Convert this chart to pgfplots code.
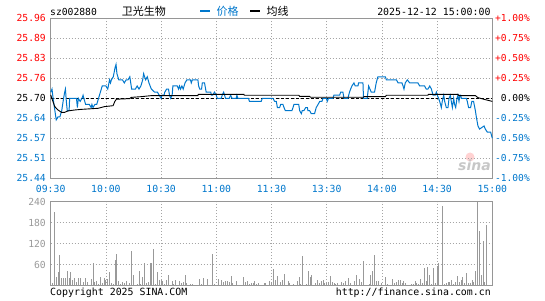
\documentclass[border=0pt]{standalone}
\usepackage{pgfplots}
\pgfplotsset{compat=1.18}
\usepackage{fontspec}
\setmainfont{DejaVu Sans Mono}
\newfontfamily\cjk{Noto Sans CJK SC}
\newfontfamily\dvs{DejaVu Sans}
\definecolor{pblue}{RGB}{0,119,204}
\definecolor{vgray}{RGB}{153,153,153}
\definecolor{ggray}{RGB}{165,165,165}
\definecolor{fgray}{RGB}{150,150,150}
\definecolor{tred}{RGB}{255,0,0}
\tikzset{pct/.style={anchor=east,inner sep=0pt,xshift=37.7pt,font=\fontsize{9.6}{10}\selectfont}}
\begin{document}
\begin{tikzpicture}[x=1pt,y=1pt]
\useasboundingbox (0,0) rectangle (545,300);
% header
\node[anchor=base west,inner sep=0,font=\fontsize{9.7}{10}\selectfont] at (50,284) {sz002880};
\node[anchor=base west,inner sep=0,font=\cjk\fontsize{11}{12}\selectfont] at (121.7,284.8) {卫光生物};
\draw[pblue,line width=2pt] (200,288.5) -- (210,288.5);
\node[anchor=base west,inner sep=0,text=pblue,font=\cjk\fontsize{11}{12}\selectfont] at (216.5,284.8) {价格};
\draw[black,line width=2pt] (250,288.5) -- (260,288.5);
\node[anchor=base west,inner sep=0,font=\cjk\fontsize{11}{12}\selectfont] at (266.5,284.8) {均线};
\node[anchor=base east,inner sep=0,font=\fontsize{9.9}{10}\selectfont] at (490.7,284) {2025-12-12 15:00:00};
% watermark
\fill[red!60!pink,opacity=0.25] (470,143) circle (4.5);
\node[anchor=base west,inner sep=0,text=black!22,font=\dvs\bfseries\itshape\fontsize{14}{14}\selectfont] at (458,130) {sina};
% price axis
\begin{axis}[
  at={(50.7pt,121.7pt)}, anchor=south west, scale only axis,
  width=441.6pt, height=160pt,
  xmin=0, xmax=240, ymin=25.44, ymax=25.96,
  clip=false,
  axis line style={fgray,line width=0.9pt},
  major tick length=0pt,
  grid=major,
  major grid style={ggray,line width=0.8pt,dash pattern=on 1pt off 2pt},
  xtick={0,30,60,90,120,150,180,210,240},
  xticklabels={09:30,10:00,10:30,11:00,11:30,13:30,14:00,14:30,15:00},
  xticklabel style={text=pblue,font=\fontsize{9.8}{10}\selectfont,inner sep=0pt,anchor=north,yshift=-6.6pt},
  ytick={25.44,25.505,25.57,25.635,25.70,25.765,25.83,25.895,25.96},
  yticklabels={\textcolor{pblue}{25.44},\textcolor{pblue}{25.51},\textcolor{pblue}{25.57},\textcolor{pblue}{25.64},25.70,\textcolor{tred}{25.76},\textcolor{tred}{25.83},\textcolor{tred}{25.89},\textcolor{tred}{25.96}},
  yticklabel style={font=\fontsize{9.7}{10}\selectfont,inner sep=0pt,anchor=east,xshift=-4.7pt},
]
\addplot[black,line width=0.9pt,dash pattern=on 3pt off 2pt] coordinates {(0,25.70) (240,25.70)};
\addplot[pblue,line width=1pt] coordinates {
(0,25.72) (0.7,25.73) (1.3,25.70) (3,25.63) (4,25.64) (5,25.64) (6,25.66) (7,25.70) (7.6,25.72) (8,25.73) (8.5,25.69) (9,25.66) (10,25.66) (10.3,25.70) (14,25.70) (14.5,25.67) (15,25.70) (16,25.69) (17,25.70) (17.6,25.71) (18,25.70) (19,25.68) (21,25.68) (22,25.67) (22.4,25.68) (23,25.67) (24,25.68) (25,25.68) (26,25.70) (27,25.72) (28,25.74) (30,25.74) (31,25.73) (32,25.76) (32.5,25.75) (33,25.76) (34,25.77) (35,25.80) (35.5,25.81) (36,25.78) (37,25.76) (39,25.76) (40,25.75) (41,25.76) (42,25.76) (43,25.77) (43.5,25.75) (44,25.73) (46,25.73) (47,25.74) (48,25.73) (49,25.74) (50,25.76) (50.5,25.78) (51.6,25.76) (52.5,25.77) (53.4,25.75) (54.7,25.73) (56.5,25.72) (58,25.72) (59,25.71) (60,25.70)
(60.5,25.71) (61.6,25.71) (62,25.72) (63,25.73) (64,25.73) (64.6,25.71) (65.2,25.70) (66,25.71) (66.4,25.74) (68.8,25.74) (69.5,25.73) (70,25.74) (70.6,25.73) (71.3,25.74) (72,25.73) (73,25.75) (74,25.76) (76,25.76) (76.4,25.75) (77,25.76) (80,25.76) (80.4,25.74) (81,25.73) (82,25.73) (82.4,25.75) (83.6,25.75) (84.2,25.73) (84.5,25.72) (87,25.72) (87.3,25.71) (88,25.71) (89,25.72) (90,25.71) (90.5,25.70) (92.7,25.70) (93.2,25.71) (94,25.72) (95,25.70) (97,25.70) (97.8,25.71) (98.5,25.70) (100.8,25.70) (101.2,25.71) (101.7,25.70) (107.5,25.70) (108,25.69) (114.4,25.69) (115,25.70) (120,25.70)
(120.8,25.70) (121.7,25.69) (122.6,25.69) (123.2,25.67) (124.4,25.67) (125,25.68) (126.2,25.68) (126.8,25.67) (127.5,25.66) (131.1,25.66) (131.7,25.67) (132.2,25.68) (134.8,25.68) (135.3,25.66) (136.2,25.65) (136.7,25.66) (137.6,25.66) (138.6,25.67) (139.5,25.67) (139.8,25.66) (140.7,25.66) (141.6,25.65) (143.4,25.65) (144.3,25.67) (145.3,25.68) (146.2,25.69) (147.4,25.69) (148,25.70) (149.8,25.70) (150.3,25.69) (151,25.70) (153.4,25.70) (153.9,25.71) (157,25.71) (157.6,25.72) (158.8,25.72) (159.4,25.70) (161.5,25.70) (162.4,25.72) (163,25.73) (163.7,25.74) (164.8,25.75) (165.5,25.74) (167,25.74) (167.3,25.75) (169.7,25.75) (170,25.70) (172,25.70) (172.8,25.74) (173.5,25.73) (174.2,25.72) (176,25.72) (176.9,25.75) (177.8,25.77)
(181.9,25.77) (182.4,25.76) (187.9,25.76) (188.8,25.75) (190.9,25.75) (191.5,25.74) (192,25.73) (192.7,25.75) (193.8,25.76) (195.1,25.75) (199.6,25.75) (200.5,25.74) (203.2,25.74) (204.1,25.73) (205,25.73) (206,25.74) (206.9,25.73) (207.8,25.71) (209,25.71) (209.6,25.72) (210.1,25.71) (210.8,25.70) (211.4,25.69) (212.3,25.67) (212.8,25.69) (213.6,25.71) (214.1,25.69) (215,25.67) (215.9,25.67) (216.5,25.70) (217.2,25.71) (217.7,25.69) (218.3,25.67) (219,25.70) (219.5,25.68) (220.1,25.67) (220.8,25.70) (221.3,25.71) (221.9,25.69) (222.4,25.71) (222.8,25.71) (223.2,25.70) (225.9,25.70) (226.4,25.69) (227.1,25.67) (228.2,25.67) (228.9,25.69) (229.8,25.69) (230.8,25.66) (231.3,25.64) (232.2,25.61) (233.1,25.60) (235.5,25.61) (236.2,25.60) (237.3,25.59) (239.1,25.59) (240,25.57)
};
\addplot[black,line width=0.9pt] coordinates {
(0,25.711) (1.25,25.689) (2.2,25.673) (4,25.662) (5.8,25.6545) (7.6,25.6545) (9.4,25.659) (13,25.662) (16.6,25.664) (25.7,25.6675) (29.3,25.673) (33.9,25.676) (34.8,25.689) (35.7,25.697) (42.9,25.699) (43.8,25.703) (49.3,25.7054) (54.7,25.7087) (80,25.7087) (80.2,25.713) (105,25.713) (105.2,25.7098) (134.8,25.7098) (135.3,25.7065) (140.7,25.7065) (141.2,25.7033) (170,25.7033) (170.3,25.7054) (181.9,25.7054) (182.4,25.7098) (205,25.7098) (205.3,25.713) (221.3,25.713) (221.8,25.7087) (230.8,25.7087) (232.2,25.7022) (235.5,25.6967) (239.1,25.6913) (240,25.690)
};
\node[pct,text=tred] at (axis cs:240,25.96) {+1.00\%};
\node[pct,text=tred] at (axis cs:240,25.895) {+0.75\%};
\node[pct,text=tred] at (axis cs:240,25.83) {+0.50\%};
\node[pct,text=tred] at (axis cs:240,25.765) {+0.25\%};
\node[pct,text=black] at (axis cs:240,25.70) {0.00\%};
\node[pct,text=pblue] at (axis cs:240,25.635) {-0.25\%};
\node[pct,text=pblue] at (axis cs:240,25.57) {-0.50\%};
\node[pct,text=pblue] at (axis cs:240,25.505) {-0.75\%};
\node[pct,text=pblue] at (axis cs:240,25.44) {-1.00\%};
\end{axis}
% volume axis
\begin{axis}[
  at={(50.7pt,14.3pt)}, anchor=south west, scale only axis,
  width=441.6pt, height=84pt,
  xmin=0, xmax=240, ymin=0, ymax=240,
  clip=false,
  axis line style={fgray,line width=0.9pt},
  major tick length=0pt,
  grid=major,
  major grid style={ggray,line width=0.8pt,dash pattern=on 1pt off 2pt},
  xtick={0,30,60,90,120,150,180,210,240},
  xticklabels={},
  ytick={60,120,180,240},
  yticklabels={60,120,180,240},
  yticklabel style={text=vgray,font=\fontsize{9.7}{10}\selectfont,inner sep=0pt,anchor=east,xshift=-4.7pt},
]
\addplot[ycomb,vgray,line width=1pt] coordinates {
(0,16) (1,7) (2,211) (3,26) (4,40) (5,88) (6,23) (7,23) (8,23) (9,42) (10,23) (11,40) (12,16) (13,23) (14,10) (15,23) (16,21) (18,10) (19,23) (20,10) (22,19) (23,64) (24,10) (25,13) (26,4) (27,26) (28,7) (29,21) (30,16) (31,19) (32,38) (33,7) (34,4) (35,73) (36,92) (37,13) (38,4) (39,10) (40,7) (41,13) (43,7) (44,99) (45,30) (47,4) (48,42) (49,4) (50,26) (51,64) (52,7) (53,10) (54,64) (55,64) (56,105) (57,4) (58,38) (59,16) (60,16) (61,13) (62,4) (63,16) (64,32) (66,13) (67,4) (68,16) (70,13) (71,7) (72,10) (73,30) (74,7) (76,4) (77,4) (81,19) (82,4) (83,21) (85,19) (88,90) (89,4) (91,19) (93,16) (94,10) (95,13) (96,13) (97,10) (98,28) (99,7) (101,13) (105,26) (106,10) (107,13) (108,4) (109,7) (110,7) (111,13) (112,4) (113,7) (116,7) (117,7) (119,13) (120,11)
(121,48) (122,16) (123,29) (125,10) (126,16) (127,33) (129,13) (130,7) (132,4) (134,13) (135,26) (136,4) (137,85) (139,4) (140,42) (141,26) (142,30) (144,7) (145,16) (146,7) (147,13) (148,16) (149,7) (150,7) (151,11) (152,28) (153,10) (154,7) (155,4) (156,7) (158,10) (159,7) (160,13) (162,21) (163,7) (165,13) (166,30) (168,19) (169,10) (170,70) (173,4) (174,30) (175,42) (176,88) (177,13) (178,13) (180,7) (182,26) (183,4) (186,19) (187,7) (188,10) (189,16) (190,16) (191,7) (192,13) (193,7) (196,4) (197,4) (198,13) (199,7) (200,4) (201,19) (202,7) (203,51) (204,13) (205,54) (206,30) (207,4) (208,51) (209,7) (210,57) (211,64) (213,228) (214,4) (215,7) (216,10) (217,10) (218,16) (219,4) (220,10) (221,28) (222,10) (223,16) (224,26) (225,7) (226,36) (227,7) (228,7) (229,16) (230,10) (231,42) (232,240) (233,156) (234,32) (235,128) (236,10) (237,173)
};
\end{axis}
% footer
\node[anchor=base west,inner sep=0,font=\fontsize{9.9}{10}\selectfont] at (50,4.5) {Copyright 2025 SINA.COM};
\node[anchor=base east,inner sep=0,font=\fontsize{9.9}{10}\selectfont] at (491,4.5) {http://finance.sina.com.cn};
\end{tikzpicture}
\end{document}
